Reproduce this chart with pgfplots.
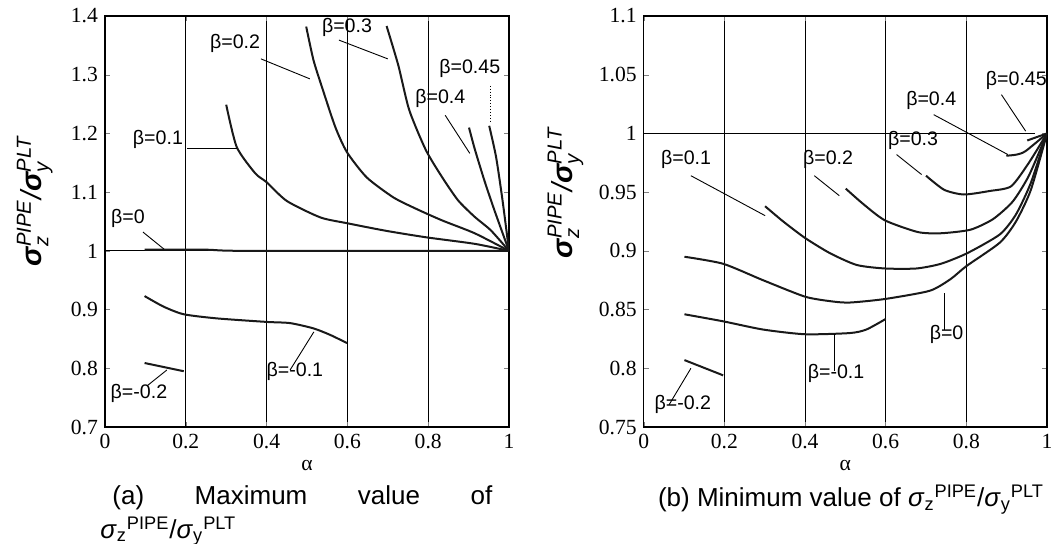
\documentclass[border=0pt]{standalone}
\usepackage{fontspec}
\setmainfont{Liberation Serif}
\setsansfont{Liberation Sans}
\usepackage{amsmath}
\usepackage{pgfplots}
\pgfplotsset{compat=1.18}

\newcommand{\sig}{\text{\bfseries σ}}
\newcommand{\ratio}{\textit{σ}\textsubscript{z}\textsuperscript{PIPE}/\textit{σ}\textsubscript{y}\textsuperscript{PLT}}
\pgfplotsset{
  panel/.style={
    scale only axis, width=202pt, height=205.5pt,
    xmin=0, xmax=1, xtick={0,0.2,0.4,0.6,0.8,1},
    tick align=inside, major tick length=2.5pt,
    xmajorgrids, grid style={black, line width=0.4pt},
    axis line style={line width=0.6pt},
    ticklabel style={font=\fontsize{10.8}{12}\selectfont},
    /pgf/number format/assume math mode=true,
    xlabel={α},
    xlabel style={at={(axis description cs:0.5,0)}, anchor=center, yshift=-19pt,
      font=\fontsize{10.8}{12}\selectfont},
    ylabel={\itshape $\sig_{\text{z}}^{\text{PIPE}}$/$\sig_{\text{y}}^{\text{PLT}}$},
    ylabel style={anchor=south, font=\sffamily\fontsize{14.5}{16}\selectfont},
  },
  curve/.style={black!90, line width=1pt, line join=round, smooth, tension=0.4},
}
\tikzset{
  lead/.style={black, line width=0.45pt},
  lab/.style={font=\sffamily\fontsize{9.8}{11}\selectfont, inner sep=0pt},
}

\begin{document}
\begin{tikzpicture}
% ---------- (a) maximum ----------
\begin{axis}[panel, at={(52.5pt,-213.5pt)}, anchor=south west,
  ymin=0.7, ymax=1.4, ytick={0.7,0.8,...,1.4},
  ylabel style={at={(axis description cs:-0.112,0.55)}}]
  \addplot[black, line width=0.45pt] coordinates {(0,1)(1,1)};
  % beta = 0.1 ... 0.45
  \addplot[curve] coordinates {(0.300,1.249)(0.326,1.177)(0.372,1.132)(0.400,1.117)(0.450,1.085)(0.533,1.057)(0.600,1.047)(0.697,1.034)(0.796,1.023)(0.915,1.012)(1,1)};
  \addplot[curve] coordinates {(0.498,1.382)(0.516,1.325)(0.537,1.279)(0.570,1.211)(0.599,1.168)(0.648,1.125)(0.714,1.091)(0.769,1.072)(0.834,1.052)(0.915,1.030)(1,1)};
  \addplot[curve] coordinates {(0.697,1.383)(0.726,1.316)(0.753,1.240)(0.794,1.172)(0.834,1.126)(0.874,1.086)(0.915,1.058)(0.955,1.035)(1,1)};
  \addplot[curve] coordinates {(0.901,1.210)(0.915,1.174)(0.939,1.120)(0.964,1.069)(1,1)};
  \addplot[curve] coordinates {(0.951,1.213)(0.968,1.160)(0.984,1.086)(1,1)};
  % beta = 0
  \addplot[curve] coordinates {(0.098,1.002)(0.25,1.002)(0.35,1.0)(1,1.0)};
  % beta = -0.1, -0.2
  \addplot[curve] coordinates {(0.098,0.923)(0.145,0.905)(0.195,0.892)(0.277,0.885)(0.400,0.879)(0.458,0.877)(0.516,0.868)(0.557,0.857)(0.599,0.843)};
  \addplot[curve] coordinates {(0.098,0.809)(0.195,0.795)};
  % leaders
  \addplot[lead] coordinates {(0.386,1.327)(0.507,1.293)};
  \addplot[lead] coordinates {(0.579,1.359)(0.700,1.327)};
  \addplot[lead, densely dotted] coordinates {(0.954,1.281)(0.954,1.218)};
  \addplot[lead] coordinates {(0.842,1.231)(0.903,1.166)};
  \addplot[lead] coordinates {(0.203,1.174)(0.327,1.174)};
  \addplot[lead] coordinates {(0.094,1.032)(0.146,1.003)};
  \addplot[lead] coordinates {(0.458,0.797)(0.517,0.862)};
  \addplot[lead] coordinates {(0.104,0.770)(0.153,0.797)};
  \node[lab] at (axis cs:0.322,1.354) {β=0.2};
  \node[lab] at (axis cs:0.599,1.381) {β=0.3};
  \node[lab] at (axis cs:0.903,1.311) {β=0.45};
  \node[lab] at (axis cs:0.830,1.259) {β=0.4};
  \node[lab] at (axis cs:0.131,1.189) {β=0.1};
  \node[lab] at (axis cs:0.057,1.056) {β=0};
  \node[lab] at (axis cs:0.470,0.795) {β=-0.1};
  \node[lab] at (axis cs:0.084,0.758) {β=-0.2};
\end{axis}

% ---------- (b) minimum ----------
\begin{axis}[panel, at={(321.85pt,-213.5pt)}, anchor=south west, width=201.65pt,
  ymin=0.75, ymax=1.1, ytick={0.75,0.8,0.85,0.9,0.95,1,1.05,1.1},
  ylabel style={at={(axis description cs:-0.132,0.57)}}]
  \addplot[black, line width=0.45pt] coordinates {(0,1)(0.97,1)};
  \addplot[curve] coordinates {(0.951,0.994)(1,1)};
  \addplot[curve] coordinates {(0.899,0.981)(0.925,0.982)(0.947,0.985)(1,1)};
  \addplot[curve] coordinates {(0.700,0.964)(0.745,0.952)(0.794,0.948)(0.858,0.951)(0.911,0.955)(0.955,0.975)(1,1)};
  \addplot[curve] coordinates {(0.501,0.953)(0.544,0.940)(0.598,0.926)(0.680,0.916)(0.737,0.915)(0.810,0.918)(0.866,0.927)(0.915,0.942)(0.955,0.964)(1,1)};
  \addplot[curve] coordinates {(0.301,0.938)(0.346,0.925)(0.400,0.911)(0.462,0.898)(0.528,0.888)(0.598,0.885)(0.676,0.885)(0.737,0.889)(0.802,0.898)(0.883,0.914)(0.923,0.931)(0.960,0.958)(1,1)};
  \addplot[curve] coordinates {(0.101,0.895)(0.197,0.889)(0.296,0.875)(0.400,0.861)(0.466,0.857)(0.511,0.856)(0.598,0.859)(0.709,0.866)(0.761,0.876)(0.800,0.887)(0.883,0.907)(0.923,0.925)(0.960,0.952)(1,1)};
  \addplot[curve] coordinates {(0.101,0.846)(0.197,0.840)(0.296,0.833)(0.400,0.829)(0.511,0.830)(0.552,0.833)(0.600,0.842)};
  \addplot[curve] coordinates {(0.101,0.807)(0.197,0.794)};
  % leaders
  \addplot[lead] coordinates {(0.887,1.033)(0.947,1.002)};
  \addplot[lead] coordinates {(0.719,1.016)(0.903,0.982)};
  \addplot[lead] coordinates {(0.627,0.982)(0.689,0.965)};
  \addplot[lead] coordinates {(0.423,0.964)(0.485,0.947)};
  \addplot[lead] coordinates {(0.117,0.964)(0.301,0.930)};
  \addplot[lead] coordinates {(0.746,0.864)(0.746,0.833)};
  \addplot[lead] coordinates {(0.474,0.829)(0.474,0.798)};
  \addplot[lead] coordinates {(0.117,0.800)(0.063,0.769)};
  \node[lab] at (axis cs:0.924,1.045) {β=0.45};
  \node[lab] at (axis cs:0.713,1.028) {β=0.4};
  \node[lab] at (axis cs:0.668,0.994) {β=0.3};
  \node[lab] at (axis cs:0.457,0.978) {β=0.2};
  \node[lab] at (axis cs:0.105,0.978) {β=0.1};
  \node[lab] at (axis cs:0.751,0.829) {β=0};
  \node[lab] at (axis cs:0.477,0.796) {β=-0.1};
  \node[lab] at (axis cs:0.097,0.769) {β=-0.2};
\end{axis}

% captions
\node[anchor=north west, inner sep=0pt, text width=196pt, align=justify,
  font=\sffamily\fontsize{13}{17}\selectfont] at (50pt,-242.5pt)
  {\hspace*{6pt}(a) Maximum value of\linebreak \ratio};
\node[anchor=base, inner sep=0pt, font=\sffamily\fontsize{13}{15}\selectfont]
  at (425.5pt,-253.3pt) {(b) Minimum value of \ratio};

\pgfresetboundingbox
\path[use as bounding box] (0,0) rectangle (530pt,-271.5pt);
\end{tikzpicture}
\end{document}
